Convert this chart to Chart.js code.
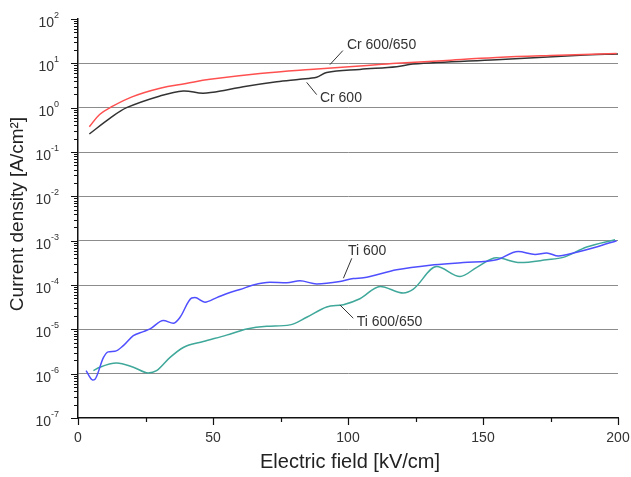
<!DOCTYPE html>
<html>
<head>
<meta charset="utf-8">
<script src="https://cdn.jsdelivr.net/npm/chart.js@4.4.0/dist/chart.umd.min.js"></script>
<style>
html,body{margin:0;padding:0;background:#fff;}
#wrap{width:631px;height:477px;position:relative;}
</style>
</head>
<body>
<div id="wrap"><canvas id="c" width="631" height="477"></canvas></div>
<script>
// ---- data ----
const crMixX = [4.2, 8, 11.9, 20, 30.4, 40, 48.9, 67.4, 85.9, 104.4, 118, 135, 155, 175, 199.5];
const crMixY = [0.37, 0.7, 1.0, 1.75, 2.74, 3.5, 4.35, 5.9, 7.3, 8.7, 10, 11.5, 13.5, 15.0, 16.6];

const cr600X = [4.2, 11.9, 18, 30.4, 39, 46.4, 55, 61.2, 73.6, 82.2, 88.4, 92.1, 104.4, 118, 124, 155, 186, 200];
const cr600Y = [0.255, 0.58, 1.0, 1.84, 2.38, 2.11, 2.5, 2.98, 3.86, 4.38, 4.85, 6.2, 7.3, 8.4, 9.6, 12.1, 15.2, 16.3];

const ti600X = [3.0, 5.4, 6.3, 9.4, 11.2, 13.7, 16.8, 20.5, 24.2, 26.7, 31.6, 35.3, 37.8, 42.1, 43.3, 47, 51.4, 56.3, 60, 64.9, 71.1, 77.3, 82.2, 88.4, 97, 102, 105.7, 118, 130.4, 142.7, 155, 163, 169.3, 173.6, 177.9, 184.7, 192, 199.5];
const ti600Y = [1.17e-6, 7.2e-7, 7.5e-7, 2.3e-6, 3.1e-6, 3.2e-6, 4.3e-6, 7.2e-6, 8.9e-6, 1.02e-5, 1.58e-5, 1.37e-5, 1.87e-5, 5.1e-5, 5.2e-5, 4.1e-5, 5.2e-5, 6.8e-5, 7.9e-5, 1.0e-4, 1.15e-4, 1.13e-4, 1.24e-4, 1.06e-4, 1.2e-4, 1.4e-4, 1.45e-4, 2.2e-4, 2.8e-4, 3.2e-4, 3.7e-4, 5.7e-4, 4.9e-4, 5.3e-4, 4.5e-4, 5.5e-4, 7.2e-4, 1.0e-3];

const tiMixX = [5.7, 8.1, 14.3, 20.5, 26, 29.1, 34, 39, 46.4, 55, 62.5, 69.9, 78.5, 84.7, 92.1, 98.3, 104.4, 111.9, 120.5, 124.2, 132.8, 141.5, 147.7, 155, 163.7, 173.6, 179.7, 188.4, 198.9];
const tiMixY = [1.17e-6, 1.4e-6, 1.74e-6, 1.4e-6, 1.04e-6, 1.17e-6, 2.3e-6, 3.9e-6, 5.3e-6, 7.4e-6, 1.02e-5, 1.17e-5, 1.26e-5, 1.87e-5, 3.2e-5, 3.6e-5, 4.9e-5, 9.3e-5, 6.6e-5, 8.1e-5, 2.6e-4, 1.55e-4, 2.5e-4, 4.1e-4, 3.2e-4, 3.7e-4, 4.2e-4, 7.2e-4, 1.05e-3];

const seriesNames = ['Cr 600/650', 'Cr 600', 'Ti 600', 'Ti 600/650'];

const yExponents = [2, 1, 0, -1, -2, -3, -4, -5, -6, -7];
const xTickLabels = [0, 50, 100, 150, 200];
const xMinorStep = 25;

const xTitle = 'Electric field [kV/cm]';
const yTitle = 'Current density [A/cm²]';

// annotation labels: text anchor and leader lines in data units
const labelText = ['Cr 600/650', 'Cr 600', 'Ti 600', 'Ti 600/650'];
const labelX = [99.6, 89.6, 100, 103.2];
const labelY = [26.4, 1.6, 5.8e-4, 1.49e-5];
const leaderX1 = [93.3, 84.7, 98.3, 97.0];
const leaderY1 = [9.35, 3.72, 1.42e-4, 3.55e-5];
const leaderX2 = [98.1, 88.4, 101.4, 101.96];
const leaderY2 = [19.4, 1.97, 4.0e-4, 1.78e-5];

const pts = (xs, ys) => xs.map((x, i) => ({x: x, y: ys[i]}));

const FONT = '"Liberation Sans", Arial, Helvetica, sans-serif';

const decor = {
  id: 'decor',
  afterDraw(chart) {
    const ctx = chart.ctx;
    const xs = chart.scales.x, ys = chart.scales.y;
    const ca = chart.chartArea;
    ctx.save();
    // y ticks (major + minor)
    ctx.strokeStyle = '#111';
    ctx.lineWidth = 1.2;
    ctx.beginPath();
    for (let e = -7; e <= 2; e++) {
      for (let m = 1; m <= 9; m++) {
        if (e === 2 && m > 1) break;
        const py = Math.round(ys.getPixelForValue(m * Math.pow(10, e))) + 0.5;
        const len = m === 1 ? 7 : 4;
        ctx.moveTo(ca.left - len, py);
        ctx.lineTo(ca.left, py);
      }
    }
    // x ticks
    for (let v = 0; v <= 200; v += xMinorStep) {
      const px = Math.round(xs.getPixelForValue(v)) + 0.5;
      const len = v % 50 === 0 ? 7 : 4;
      ctx.moveTo(px, ca.bottom);
      ctx.lineTo(px, ca.bottom + len);
    }
    ctx.stroke();

    // y tick labels 10^e
    ctx.fillStyle = '#333';
    ctx.textBaseline = 'alphabetic';
    yExponents.forEach(e => {
      const py = ys.getPixelForValue(Math.pow(10, e));
      const ex = String(e);
      ctx.font = '9px ' + FONT;
      const ew = ctx.measureText(ex).width;
      const right = ca.left - 19;
      ctx.textAlign = 'left';
      ctx.fillText(ex, right - ew, py - 1);
      ctx.font = '14px ' + FONT;
      ctx.textAlign = 'right';
      ctx.fillText('10', right - ew, py + 8);
    });

    // x tick labels
    ctx.font = '14px ' + FONT;
    ctx.textAlign = 'center';
    ctx.textBaseline = 'middle';
    xTickLabels.forEach(v => {
      ctx.fillText(String(v), xs.getPixelForValue(v), ca.bottom + 20);
    });

    // axis titles
    ctx.fillStyle = '#222';
    ctx.font = '20px ' + FONT;
    ctx.fillText(xTitle, (ca.left + ca.right) / 2 + 2, 462);
    ctx.save();
    ctx.translate(18, 214);
    ctx.rotate(-Math.PI / 2);
    ctx.font = '19px ' + FONT;
    ctx.fillText(yTitle, 0, 0);
    ctx.restore();

    // annotations
    ctx.strokeStyle = '#333';
    ctx.lineWidth = 1;
    ctx.beginPath();
    for (let i = 0; i < labelText.length; i++) {
      ctx.moveTo(xs.getPixelForValue(leaderX1[i]), ys.getPixelForValue(leaderY1[i]));
      ctx.lineTo(xs.getPixelForValue(leaderX2[i]), ys.getPixelForValue(leaderY2[i]));
    }
    ctx.stroke();
    ctx.font = '14px ' + FONT;
    ctx.fillStyle = '#333';
    ctx.textAlign = 'left';
    ctx.textBaseline = 'middle';
    for (let i = 0; i < labelText.length; i++) {
      ctx.fillText(labelText[i], xs.getPixelForValue(labelX[i]), ys.getPixelForValue(labelY[i]));
    }
    ctx.restore();
  }
};

new Chart(document.getElementById('c'), {
  type: 'line',
  data: {
    datasets: [
      {label: seriesNames[0], data: pts(crMixX, crMixY), borderColor: '#ff5050', cubicInterpolationMode: 'default', tension: 0.4},
      {label: seriesNames[1], data: pts(cr600X, cr600Y), borderColor: '#333333', cubicInterpolationMode: 'default', tension: 0.35},
      {label: seriesNames[2], data: pts(ti600X, ti600Y), borderColor: '#4f4fff'},
      {label: seriesNames[3], data: pts(tiMixX, tiMixY), borderColor: '#3fa89a'}
    ]
  },
  options: {
    responsive: false,
    animation: false,
    devicePixelRatio: 1,
    layout: {padding: {left: 0, top: 19, right: 13, bottom: 0}},
    elements: {
      point: {radius: 0},
      line: {borderWidth: 1.5, cubicInterpolationMode: 'monotone', fill: false}
    },
    plugins: {legend: {display: false}, tooltip: {enabled: false}},
    scales: {
      x: {
        type: 'linear', min: 0, max: 200,
        ticks: {display: false, stepSize: 50},
        grid: {display: false, drawTicks: false},
        border: {display: true, color: '#111', width: 1.5},
        afterFit(s) { s.height = 59; }
      },
      y: {
        type: 'logarithmic', min: 1e-7, max: 1e2,
        afterBuildTicks(s) { s.ticks = yExponents.map(e => ({value: Math.pow(10, e)})); },
        ticks: {display: false},
        grid: {
          drawTicks: false,
          color: c => (c.tick && (c.tick.value >= 99 || c.tick.value <= 1.01e-7)) ? 'rgba(0,0,0,0)' : '#8c8c8c',
          lineWidth: 1
        },
        border: {display: true, color: '#111', width: 1.5},
        afterFit(s) { s.width = 78; }
      }
    }
  },
  plugins: [decor]
});
</script>
</body>
</html>
